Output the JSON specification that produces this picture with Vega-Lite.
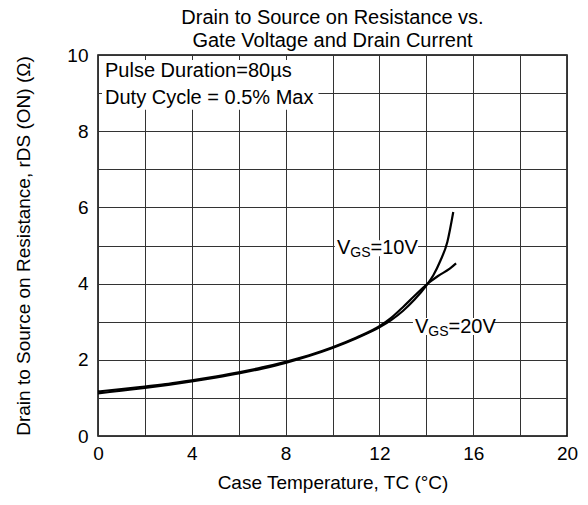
{
  "$schema": "https://vega.github.io/schema/vega-lite/v6.json",
  "width": 469,
  "height": 381,
  "autosize": {"type": "none"},
  "padding": {"left": 98, "top": 55, "right": 21, "bottom": 69},
  "background": "white",
  "title": {
    "text": ["Drain to Source on Resistance vs.", "Gate Voltage and Drain Current"],
    "font": "Liberation Sans",
    "fontSize": 20,
    "fontWeight": "normal",
    "color": "black",
    "lineHeight": 23,
    "offset": -5,
    "anchor": "middle"
  },
  "config": {
    "view": {"stroke": "black", "strokeWidth": 1.5},
    "axis": {
      "grid": true,
      "gridColor": "#333333",
      "gridWidth": 1,
      "gridOpacity": 1,
      "ticks": false,
      "domain": false,
      "labelFont": "Liberation Sans",
      "labelFontSize": 19,
      "labelColor": "black",
      "labelFlush": false,
      "labelOverlap": false,
      "titleFont": "Liberation Sans",
      "titleFontSize": 19,
      "titleFontWeight": "normal",
      "titleColor": "black"
    }
  },
  "datasets": {
    "curves": [
      {"series": "10V", "t": 0, "r": 1.12},
      {"series": "10V", "t": 1, "r": 1.19},
      {"series": "10V", "t": 2, "r": 1.26},
      {"series": "10V", "t": 3, "r": 1.34},
      {"series": "10V", "t": 4, "r": 1.43},
      {"series": "10V", "t": 5, "r": 1.53},
      {"series": "10V", "t": 6, "r": 1.64},
      {"series": "10V", "t": 7, "r": 1.77},
      {"series": "10V", "t": 8, "r": 1.92},
      {"series": "10V", "t": 9, "r": 2.1},
      {"series": "10V", "t": 10, "r": 2.31},
      {"series": "10V", "t": 11, "r": 2.56},
      {"series": "10V", "t": 12, "r": 2.85},
      {"series": "10V", "t": 12.5, "r": 3.04},
      {"series": "10V", "t": 13, "r": 3.28},
      {"series": "10V", "t": 13.5, "r": 3.58},
      {"series": "10V", "t": 14, "r": 3.95},
      {"series": "10V", "t": 14.3, "r": 4.22},
      {"series": "10V", "t": 14.6, "r": 4.6},
      {"series": "10V", "t": 14.9, "r": 5.1},
      {"series": "10V", "t": 15.15, "r": 5.88},
      {"series": "20V", "t": 0, "r": 1.17},
      {"series": "20V", "t": 1, "r": 1.23},
      {"series": "20V", "t": 2, "r": 1.3},
      {"series": "20V", "t": 3, "r": 1.37},
      {"series": "20V", "t": 4, "r": 1.46},
      {"series": "20V", "t": 5, "r": 1.56},
      {"series": "20V", "t": 6, "r": 1.67},
      {"series": "20V", "t": 7, "r": 1.8},
      {"series": "20V", "t": 8, "r": 1.95},
      {"series": "20V", "t": 9, "r": 2.12},
      {"series": "20V", "t": 10, "r": 2.33},
      {"series": "20V", "t": 11, "r": 2.58},
      {"series": "20V", "t": 12, "r": 2.88},
      {"series": "20V", "t": 12.5, "r": 3.1},
      {"series": "20V", "t": 13, "r": 3.38},
      {"series": "20V", "t": 13.5, "r": 3.68},
      {"series": "20V", "t": 14, "r": 3.97},
      {"series": "20V", "t": 14.5, "r": 4.2},
      {"series": "20V", "t": 15, "r": 4.39},
      {"series": "20V", "t": 15.27, "r": 4.53}
    ],
    "boxes": [
      {"t": 0.17, "t2": 9.4, "r": 8.56, "r2": 9.87},
      {"t": 10.1, "t2": 13.65, "r": 4.72, "r2": 5.14},
      {"t": 13.43, "t2": 16.84, "r": 2.65, "r2": 3.1}
    ],
    "labels": [
      {"t": 10.19, "r": 4.93, "main": "V", "sub": "GS", "tail": "=10V"},
      {"t": 13.52, "r": 2.86, "main": "V", "sub": "GS", "tail": "=20V"}
    ],
    "notes": [
      {"t": 0.3, "r": 9.57, "text": "Pulse Duration=80µs"},
      {"t": 0.3, "r": 8.88, "text": "Duty Cycle = 0.5% Max"}
    ]
  },
  "encoding": {
    "x": {
      "field": "t",
      "type": "quantitative",
      "scale": {"domain": [0, 20], "nice": false, "zero": false},
      "axis": {
        "values": [0, 2, 4, 6, 8, 10, 12, 14, 16, 18, 20],
        "labelExpr": "datum.value % 4 === 0 ? datum.label : ''",
        "title": "Case Temperature, TC (°C)",
        "labelPadding": 8,
        "titlePadding": 10
      }
    },
    "y": {
      "field": "r",
      "type": "quantitative",
      "scale": {"domain": [0, 10], "nice": false, "zero": false},
      "axis": {
        "values": [0, 1, 2, 3, 4, 5, 6, 7, 8, 9, 10],
        "labelExpr": "datum.value % 2 === 0 ? datum.label : ''",
        "title": "Drain to Source on Resistance, rDS (ON) (Ω)",
        "labelPadding": 10,
        "titlePadding": 33
      }
    }
  },
  "layer": [
    {
      "data": {"name": "boxes"},
      "mark": {"type": "rect", "fill": "white", "stroke": null},
      "encoding": {"x2": {"field": "t2"}, "y2": {"field": "r2"}}
    },
    {
      "data": {"name": "notes"},
      "mark": {"type": "text", "align": "left", "baseline": "middle", "font": "Liberation Sans", "fontSize": 20, "fill": "black"},
      "encoding": {"text": {"field": "text"}}
    },
    {
      "data": {"name": "labels"},
      "mark": {"type": "text", "align": "left", "baseline": "middle", "font": "Liberation Sans", "fontSize": 20, "fill": "black"},
      "encoding": {"text": {"field": "main"}}
    },
    {
      "data": {"name": "labels"},
      "mark": {"type": "text", "align": "left", "baseline": "middle", "font": "Liberation Sans", "fontSize": 14, "dx": 13.3, "dy": 5, "fill": "black"},
      "encoding": {"text": {"field": "sub"}}
    },
    {
      "data": {"name": "labels"},
      "mark": {"type": "text", "align": "left", "baseline": "middle", "font": "Liberation Sans", "fontSize": 20, "dx": 33.5, "fill": "black"},
      "encoding": {"text": {"field": "tail"}}
    },
    {
      "data": {"name": "curves"},
      "mark": {"type": "line", "interpolate": "monotone", "stroke": "black", "strokeWidth": 2.2},
      "encoding": {"detail": {"field": "series"}}
    }
  ]
}
